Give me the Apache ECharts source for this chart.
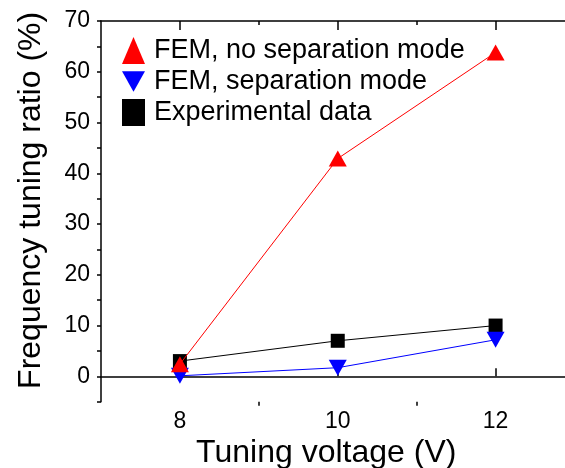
<!DOCTYPE html>
<html>
<head>
<meta charset="utf-8">
<script src="https://cdn.jsdelivr.net/npm/echarts@6/dist/echarts.min.js"></script>
<style>
  html, body { margin: 0; padding: 0; background: #fff; }
  #chart { width: 565px; height: 468px; }
</style>
</head>
<body>
<div id="chart"></div>
<script>
// tuning voltage (V)
const voltages = [8, 10, 12];
// frequency tuning ratio (%)
const femNoSeparation = [2.4, 42.9, 63.8];
const femSeparation = [0.1, 1.7, 7.2];
const experimentalData = [3.0, 7.0, 10.0];

const majorTicks = [8, 10, 12];
const minorTicks = [9, 11];

const font = 'Liberation Sans, Arial, sans-serif';
const downTriangle = 'path://M0,0L10,0L5,9Z';

const pairs = (ys) => voltages.map((x, i) => [x, ys[i]]);

const hiddenX = (position, ticks, inside, length) => ({
  type: 'value',
  position: position,
  min: 7,
  max: 13,
  axisLine: { show: false },
  axisLabel: { show: false },
  splitLine: { show: false },
  axisTick: {
    show: true,
    customValues: ticks,
    inside: inside,
    length: length,
    lineStyle: { color: '#000', width: 1.5 }
  }
});

const chart = echarts.init(document.getElementById('chart'));

chart.setOption({
  animation: false,
  backgroundColor: '#fff',
  grid: {
    left: 101, top: 21, width: 473.5, height: 380.7,
    containLabel: false,
    outerBoundsMode: 'none'
  },
  legend: {
    orient: 'vertical',
    left: 117,
    top: 32,
    itemWidth: 23,
    itemHeight: 27,
    itemGap: 4,
    textStyle: { fontSize: 27, color: '#000', fontFamily: font, padding: [0, 0, 0, 4] },
    data: [
      { name: 'FEM, no separation mode', icon: 'triangle' },
      { name: 'FEM, separation mode', icon: downTriangle },
      { name: 'Experimental data', icon: 'rect' }
    ]
  },
  xAxis: [
    {
      type: 'value',
      position: 'bottom',
      min: 7,
      max: 13,
      interval: 1,
      name: 'Tuning voltage (V)',
      nameLocation: 'middle',
      nameGap: 31,
      nameTextStyle: { fontSize: 32, color: '#000', fontFamily: font, padding: [0, 23, 0, 0] },
      axisLine: { lineStyle: { color: '#000', width: 1.5 } },
      axisTick: {
        customValues: majorTicks,
        inside: true,
        length: 8,
        lineStyle: { color: '#000', width: 1.5 }
      },
      axisLabel: {
        customValues: majorTicks,
        margin: 8,
        fontSize: 23,
        color: '#000',
        fontFamily: font
      },
      splitLine: { show: false }
    },
    hiddenX('bottom', minorTicks, false, 4),
    Object.assign(hiddenX('top', majorTicks, true, 9), {
      axisLine: { show: true, lineStyle: { color: '#000', width: 1.5 } }
    }),
    hiddenX('top', minorTicks, true, 4)
  ],
  yAxis: {
    type: 'value',
    min: -5,
    max: 70,
    interval: 5,
    name: 'Frequency tuning ratio (%)',
    nameLocation: 'middle',
    nameGap: 54,
    nameTextStyle: { fontSize: 32, color: '#000', fontFamily: font, padding: [0, 0, 0, 22] },
    axisLine: { show: true, lineStyle: { color: '#000', width: 1.5 } },
    axisTick: { show: true, inside: false, length: 4, lineStyle: { color: '#000', width: 1.5 } },
    axisLabel: {
      margin: 11,
      fontSize: 23,
      color: '#000',
      fontFamily: font,
      formatter: (v) => (v % 10 === 0 ? String(v) : '')
    },
    splitLine: { show: false }
  },
  series: [
    {
      name: 'Experimental data',
      type: 'line',
      data: pairs(experimentalData),
      symbol: 'rect',
      symbolSize: 14,
      color: '#000',
      itemStyle: { color: '#000' },
      lineStyle: { color: '#000', width: 1 },
      z: 2
    },
    {
      name: 'FEM, separation mode',
      type: 'line',
      data: pairs(femSeparation),
      symbol: downTriangle,
      symbolSize: [18, 16],
      color: '#0000ff',
      itemStyle: { color: '#0000ff' },
      lineStyle: { color: '#0000ff', width: 1 },
      z: 3
    },
    {
      name: 'FEM, no separation mode',
      type: 'line',
      data: pairs(femNoSeparation),
      symbol: 'triangle',
      symbolSize: [18, 16],
      color: '#ff0000',
      itemStyle: { color: '#ff0000' },
      lineStyle: { color: '#ff0000', width: 1 },
      z: 4
    }
  ]
});
</script>
</body>
</html>
